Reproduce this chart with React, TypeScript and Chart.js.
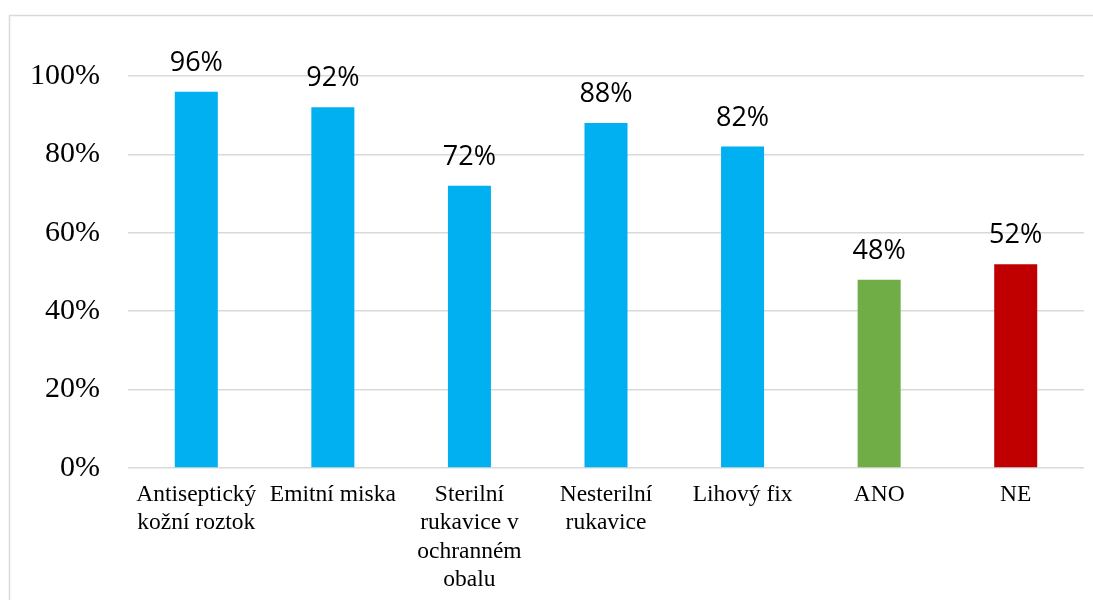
import React, { useEffect, useRef } from "react";
import { Chart, registerables } from "chart.js";

Chart.register(...registerables);

const categories: string[][] = [
  ["Antiseptický", "kožní roztok"],
  ["Emitní miska"],
  ["Sterilní", "rukavice v", "ochranném", "obalu"],
  ["Nesterilní", "rukavice"],
  ["Lihový fix"],
  ["ANO"],
  ["NE"],
];
const values: number[] = [96, 92, 72, 88, 82, 48, 52];
const barColors: string[] = ["#00B0F0", "#00B0F0", "#00B0F0", "#00B0F0", "#00B0F0", "#70AD47", "#C00000"];
const yTicks: number[] = [0, 20, 40, 60, 80, 100];

const frame = {
  id: "frame",
  beforeDraw(chart: any) {
    const ctx = chart.ctx;
    ctx.save();
    ctx.fillStyle = "#ffffff";
    ctx.fillRect(0, 0, chart.width, chart.height);
    ctx.strokeStyle = "#d9d9d9";
    ctx.lineWidth = 1.5;
    ctx.strokeRect(9.5, 15.5, chart.width + 20, chart.height + 20);
    ctx.restore();
  },
};

const valueLabels = {
  id: "valueLabels",
  afterDatasetsDraw(chart: any) {
    const ctx = chart.ctx;
    const meta = chart.getDatasetMeta(0);
    ctx.save();
    ctx.font = "27px 'Open Sans'";
    ctx.fillStyle = "#000000";
    ctx.textAlign = "center";
    ctx.textBaseline = "alphabetic";
    meta.data.forEach((bar: any, i: number) => {
      ctx.fillText(values[i] + "%", bar.x, bar.y - 21);
    });
    ctx.restore();
  },
};

export default function App() {
  const ref = useRef<HTMLCanvasElement>(null);
  useEffect(() => {
    if (!ref.current) return;
    const chart = new Chart(ref.current, {
      type: "bar",
      data: {
        labels: categories,
        datasets: [
          {
            data: values,
            backgroundColor: barColors,
            barPercentage: 0.315,
            categoryPercentage: 1,
          },
        ],
      },
      options: {
        animation: false,
        responsive: false,
        maintainAspectRatio: false,
        layout: { padding: { top: 76, right: 9, left: 0, bottom: 0 } },
        plugins: { legend: { display: false }, tooltip: { enabled: false } },
        scales: {
          x: {
            grid: { display: false, drawTicks: false },
            border: { display: false },
            ticks: {
              color: "#000000",
              font: { family: "'Liberation Serif'", size: 23.5, lineHeight: 1.2 },
              padding: 13,
              maxRotation: 0,
              autoSkip: false,
            },
            afterFit(scale: any) {
              scale.height = 132;
            },
          },
          y: {
            min: 0,
            max: 100,
            afterBuildTicks(scale: any) {
              scale.ticks = yTicks.map((v) => ({ value: v }));
            },
            grid: { color: "#d9d9d9", lineWidth: 1.5, drawTicks: false },
            border: { display: false },
            ticks: {
              color: "#000000",
              font: { family: "'Liberation Serif'", size: 30 },
              padding: 28,
              callback: (v: any) => v + "%",
            },
            afterFit(scale: any) {
              scale.width = 128;
            },
          },
        },
      },
      plugins: [frame, valueLabels],
    });
    return () => chart.destroy();
  }, []);
  return (
    <div style={{ position: "absolute", left: 0, top: 0, width: 1093, height: 600 }}>
      <canvas ref={ref} width={1093} height={600} style={{ display: "block" }} />
    </div>
  );
}
